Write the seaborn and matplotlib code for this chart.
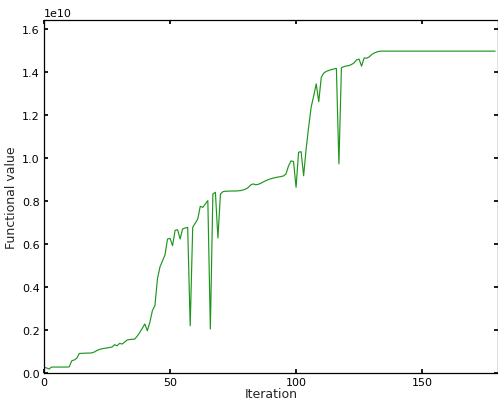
import seaborn as sns
import matplotlib.pyplot as plt
from matplotlib.ticker import MultipleLocator

# functional value per iteration, in units of 1e10
SCALE = 1e10
functional = [
    0.028, 0.025, 0.020, 0.029, 0.029, 0.029, 0.029, 0.029, 0.029, 0.029,
    0.030, 0.058, 0.062, 0.070, 0.092, 0.093, 0.093, 0.094, 0.094, 0.095,
    0.099, 0.106, 0.111, 0.114, 0.116, 0.118, 0.120, 0.122, 0.133, 0.128,
    0.139, 0.136, 0.145, 0.155, 0.157, 0.158, 0.159, 0.173, 0.190, 0.210,
    0.229, 0.198, 0.237, 0.291, 0.314, 0.438, 0.494, 0.522, 0.550, 0.624,
    0.627, 0.593, 0.664, 0.667, 0.624, 0.671, 0.675, 0.678, 0.221, 0.678,
    0.698, 0.717, 0.776, 0.771, 0.787, 0.802, 0.206, 0.833, 0.841, 0.629,
    0.833, 0.844, 0.846, 0.846, 0.847, 0.847, 0.847, 0.848, 0.849, 0.852,
    0.856, 0.863, 0.875, 0.880, 0.876, 0.878, 0.883, 0.889, 0.895, 0.900,
    0.904, 0.907, 0.910, 0.912, 0.914, 0.917, 0.926, 0.963, 0.987, 0.984,
    0.864, 1.027, 1.030, 0.918, 1.042, 1.145, 1.237, 1.289, 1.345, 1.262,
    1.375, 1.395, 1.403, 1.407, 1.411, 1.414, 1.417, 0.973, 1.420, 1.425,
    1.428, 1.430, 1.435, 1.442, 1.456, 1.460, 1.427, 1.465, 1.464, 1.470,
    1.481, 1.488, 1.493, 1.496,
] + [1.497] * 46
iterations = list(range(len(functional)))
values = [v * SCALE for v in functional]

sns.set_theme(style="white", rc={
    "xtick.direction": "in", "ytick.direction": "in",
    "xtick.top": True, "ytick.right": True,
    "xtick.bottom": True, "ytick.left": True,
    "xtick.major.size": 3, "ytick.major.size": 3,
    "axes.edgecolor": "black", "axes.linewidth": 0.9,
})
plt.rcParams["font.family"] = ["DejaVu Sans"]

fig = plt.figure(figsize=(4.98, 4.02), dpi=100)
ax = fig.add_axes([44 / 498, 27.7 / 402, 453.7 / 498, 353.6 / 402])

sns.lineplot(x=iterations, y=values, ax=ax, color="#1e961e", linewidth=0.85)

ax.set_xlim(0, 180)
ax.set_ylim(0, 1.643 * SCALE)
ax.xaxis.set_major_locator(MultipleLocator(50))
ax.yaxis.set_major_locator(MultipleLocator(0.2 * SCALE))
ax.tick_params(labelsize=8, colors="black", pad=3)
ax.yaxis.get_offset_text().set_fontsize(8)
ax.set_xlabel("Iteration", fontsize=9, labelpad=0)
ax.set_ylabel("Functional value", fontsize=9, labelpad=3)

fig.savefig("out.png", dpi=100)
